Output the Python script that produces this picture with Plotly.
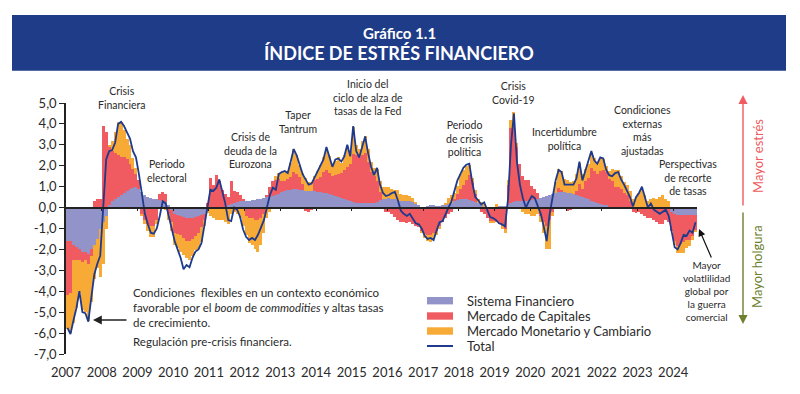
import plotly.graph_objects as go

# ---------------- data (monthly, Jan-2007 onward) ----------------
YEAR_LABELS = ["2007", "2008", "2009", "2010", "2011", "2012", "2013", "2014", "2015",
               "2016", "2017", "2018", "2019", "2020", "2021", "2022", "2023", "2024"]
Y_TICK_VALUES = [5, 4, 3, 2, 1, 0, -1, -2, -3, -4, -5, -6, -7]
Y_TICK_LABELS = ["5,0", "4,0", "3,0", "2,0", "1,0", "0,0", "-1,0", "-2,0", "-3,0",
                 "-4,0", "-5,0", "-6,0", "-7,0"]
SERIES_NAMES = ["Sistema Financiero", "Mercado de Capitales",
                "Mercado Monetario y Cambiario", "Total"]

sistema_financiero = (
    [-1.6, -1.6, -1.8, -1.9, -2.0, -2.1, -2.1, -2.2, -2.0, -1.8, -1.5, -1.0]
    + [-0.7, -0.4, 0.1, 0.3, 0.4, 0.5, 0.6, 0.7, 0.8, 0.9, 0.95, 1.0]
    + [0.9, 0.75, 0.6, 0.5, 0.45, 0.4, 0.4, 0.35, 0.3, 0.25, 0.1, -0.1]
    + [-0.3, -0.35, -0.4, -0.45, -0.5, -0.5, -0.5, -0.45, -0.4, -0.35, -0.3, -0.15]
    + [0.0, 0.0, 0.05, 0.05, 0.05, 0.05, 0.1, 0.15, 0.2, 0.25, 0.3, 0.3]
    + [0.3, 0.3, 0.35, 0.35, 0.4, 0.4, 0.45, 0.5, 0.5, 0.55, 0.6, 0.65]
    + [0.75, 0.8, 0.85, 0.85, 0.9, 0.9, 0.85, 0.85, 0.8, 0.8, 0.8, 0.8]
    + [0.75, 0.75, 0.7, 0.7, 0.65, 0.6, 0.55, 0.5, 0.45, 0.4, 0.35, 0.3]
    + [0.25, 0.2, 0.2, 0.2, 0.2, 0.2, 0.2, 0.2, 0.25, 0.35, 0.4, 0.4]
    + [0.45, 0.4, 0.4, 0.35, 0.3, 0.3, 0.3, 0.3, 0.25, 0.2, 0.1, 0.0]
    + [0.0, 0.05, 0.1, 0.1, 0.05, 0.05, 0.1, 0.1, 0.15, 0.2, 0.3, 0.35]
    + [0.4, 0.4, 0.4, 0.35, 0.3, 0.25, 0.2, 0.1, 0.05, 0.0, -0.05, -0.05]
    + [0.05, 0.05, 0.05, 0.05, 0.1, 0.2, 0.25, 0.3, 0.3, 0.3, 0.3, 0.3]
    + [0.35, 0.4, 0.4, 0.45, 0.5, 0.55, 0.6, 0.65, 0.7, 0.75, 0.75, 0.75]
    + [0.7, 0.7, 0.65, 0.6, 0.55, 0.5, 0.45, 0.4, 0.3, 0.25, 0.2, 0.15]
    + [0.1, 0.1, 0.05, 0.05, -0.05, -0.05, -0.05, -0.05, -0.05, -0.05, 0.0, 0.0]
    + [0.0, 0.0, 0.0, 0.0, 0.0, 0.0, 0.0, 0.0, 0.0, 0.0, 0.0, -0.2]
    + [-0.3, -0.35, -0.35, -0.35, -0.35, -0.35, -0.35, -0.35]
)

mercado_capitales = (
    [-2.6, -2.5, -0.7, -0.6, -0.5, -0.5, -0.4, -0.5, -0.3, 0.3, 0.4, 0.4]
    + [3.9, 3.6, 2.8, 2.4, 2.2, 2.0, 1.8, 1.7, 1.5, 1.2, 0.9, 0.6]
    + [0.4, -0.3, -0.6, -0.8, -0.9, -0.9, -0.6, 0.3, 0.45, 0.4, -0.3, -0.6]
    + [-0.9, -0.9, -0.9, -1.0, -1.1, -1.1, -1.0, -0.9, -0.8, -0.6, -0.3, 0.2]
    + [1.4, 1.1, 1.5, 1.2, 0.8, 0.6, 0.4, 1.1, 0.6, 0.5, 0.3, 0.1]
    + [-0.4, -0.5, -0.5, -0.6, -0.6, -0.5, -0.3, 0.1, 0.5, 0.7, 0.7, 0.7]
    + [0.5, 0.45, 0.5, 0.6, 0.8, 0.7, 0.6, 0.3, -0.15, -0.2, -0.1, 0.5]
    + [0.6, 0.7, 1.0, 1.1, 1.0, 0.9, 1.0, 1.1, 1.2, 1.4, 1.6, 1.8]
    + [2.3, 2.3, 2.2, 2.3, 2.4, 2.0, 1.5, 1.3, 1.0, 0.4, 0.0, -0.2]
    + [-0.2, -0.3, -0.45, -0.6, -0.7, -0.7, -0.75, -0.7, -0.8, -0.9, -0.95, -1.1]
    + [-1.25, -1.3, -1.3, -1.2, -1.1, -0.9, -0.7, -0.5, -0.3, -0.2, 0.1, 0.3]
    + [0.5, 0.7, 0.9, 1.2, 0.9, 0.4, 0.0, -0.2, -0.3, -0.5, -0.6, -0.6]
    + [-0.7, -0.8, -0.9, -1.0, 1.0, 3.6, 3.8, 2.6, 1.8, 1.2, 1.0, 1.0]
    + [0.7, 0.5, 0.3, -0.4, -0.7, -0.9, -0.6, -0.2, 0.0, 0.2, 0.1, 0.0]
    + [-0.15, -0.1, 0.0, 0.2, 0.6, 0.4, 0.8, 1.0, 1.6, 1.5, 1.4, 1.6]
    + [1.7, 1.6, 1.3, 1.2, 1.0, 1.0, 0.9, 0.7, 0.6, 0.3, -0.2, -0.25]
    + [-0.2, -0.3, -0.4, -0.5, -0.5, -0.6, -0.7, -0.8, -0.8, -0.6, -0.7, -0.9]
    + [-1.3, -1.5, -1.4, -1.3, -1.2, -1.2, -1.0, -0.7]
)

mercado_monetario = (
    [-1.6, -1.9, -3.0, -2.3, -1.6, -2.3, -2.5, -2.7, -2.2, -1.6, -1.4, -2.3]
    + [-2.0, -0.6, 0.1, 0.5, 1.0, 1.6, 1.7, 1.3, 1.0, 0.9, 0.5, 0.3]
    + [0.0, -0.1, -0.2, -0.3, -0.5, -0.5, -0.2, 0.0, 0.0, -0.1, -0.3, -0.4]
    + [-0.6, -0.7, -0.8, -0.8, -0.8, -0.9, -0.8, -0.7, -0.8, -0.7, -0.3, -0.1]
    + [-0.4, -0.5, -0.6, -0.6, -0.6, -0.7, -0.8, -0.3, -0.2, -0.3, -0.5, -0.9]
    + [-0.9, -1.2, -1.3, -1.4, -1.5, -1.3, -0.9, -0.5, -0.2, 0.0, 0.2, 0.3]
    + [0.4, 0.5, 0.4, 0.7, 1.1, 0.9, 0.6, 0.5, 0.6, 0.4, 0.4, 0.2]
    + [0.4, 0.6, 0.7, 1.0, 0.8, 0.5, 0.7, 0.8, 0.5, 0.7, 1.0, 0.6]
    + [1.3, 0.5, 0.4, 0.7, 0.8, 0.6, 0.5, 0.4, 0.6, 0.5, 0.6, 0.6]
    + [0.55, 0.5, 0.45, 0.5, 0.35, 0.3, 0.3, 0.25, 0.2, 0.05, 0.0, -0.1]
    + [-0.2, -0.3, -0.35, -0.3, -0.2, -0.1, 0.0, 0.1, 0.3, 0.4, 0.3, 0.4]
    + [0.7, 0.7, 0.7, 0.5, 0.2, 0.2, 0.2, 0.15, 0.1, 0.0, -0.1, -0.1]
    + [0.1, 0.0, -0.1, -0.2, 0.2, 0.4, 0.5, 0.2, 0.0, -0.2, -0.3, -0.3]
    + [-0.4, -0.4, -0.3, -0.3, -0.5, -1.1, -1.4, -0.2, 0.5, 0.9, 0.9, 0.6]
    + [0.6, 0.5, 0.6, 0.8, 1.0, 0.7, 0.6, 0.7, 0.7, 0.6, 0.6, 0.6]
    + [0.5, 0.3, 0.4, 0.6, 0.8, 0.8, 0.6, 0.5, 0.5, 0.5, 0.4, 0.5]
    + [0.7, 0.9, 0.6, 0.3, 0.4, 0.45, 0.4, 0.5, 0.6, 0.4, 0.3, 0.0]
    + [-0.2, -0.3, -0.4, -0.5, -0.4, -0.3, -0.2, -0.1]
)

total = (
    [-5.75, -6.05, -5.4, -4.8, -4.0, -5.0, -5.05, -5.45, -4.3, -3.2, -2.7, -2.3]
    + [0.0, 2.3, 2.7, 2.75, 3.1, 4.0, 4.1, 3.9, 3.6, 3.3, 2.7, 2.4]
    + [1.6, 0.6, -0.3, -0.8, -1.2, -1.25, -1.0, -0.4, 0.3, 0.2, -0.4, -1.0]
    + [-1.6, -2.0, -2.4, -2.95, -2.75, -2.85, -2.4, -2.1, -2.0, -1.7, -0.8, -0.1]
    + [0.85, 0.8, 0.95, 1.35, 0.8, 0.2, -0.6, -0.65, 0.0, -0.1, -0.45, -1.05]
    + [-1.4, -1.55, -1.45, -1.55, -1.3, -0.9, -0.6, 0.0, 0.6, 0.95, 0.85, 1.6]
    + [1.7, 1.75, 1.65, 2.2, 2.8, 2.5, 2.0, 1.6, 1.35, 1.1, 1.15, 1.45]
    + [1.7, 2.0, 2.3, 2.9, 2.4, 1.95, 2.3, 2.35, 2.2, 2.45, 3.0, 2.45]
    + [3.9, 2.7, 2.4, 2.9, 3.4, 2.6, 1.95, 1.55, 1.9, 1.1, 0.7, 0.55]
    + [0.6, 0.7, 0.75, 0.35, -0.15, -0.3, -0.4, -0.3, -0.5, -0.75, -0.8, -1.0]
    + [-1.35, -1.5, -1.45, -1.55, -1.1, -0.7, -0.65, -0.3, 0.0, 0.3, 0.85, 1.3]
    + [1.6, 1.9, 2.05, 2.1, 1.2, 0.5, 0.35, 0.15, 0.25, -0.1, -0.45, -0.5]
    + [-0.6, -0.75, -0.8, -0.9, 0.4, 3.0, 4.5, 2.2, 1.1, 0.45, 0.0, 0.3]
    + [0.55, 0.45, 0.1, -0.3, -0.9, -1.6, -0.3, 0.6, 1.3, 1.8, 1.7, 1.1]
    + [1.1, 1.1, 1.1, 1.4, 2.2, 1.3, 1.75, 2.15, 2.7, 2.25, 2.1, 2.4]
    + [2.35, 1.8, 1.55, 1.5, 1.65, 1.7, 1.35, 1.1, 0.8, 0.5, 0.05, 0.5]
    + [0.7, 1.0, 0.5, 0.0, 0.2, -0.1, -0.2, -0.3, -0.2, -0.1, -0.4, -1.2]
    + [-1.9, -2.0, -1.7, -1.3, -1.35, -1.1, -1.2, -0.7]
)

N = len(total)
months = list(range(N))

# ---------------- styling ----------------
COLORS = ["#9294C9", "#EF5B60", "#F8AA36", "#1E3A8C"]
BANNER = "#1F3C88"
TXT = "#2a2a2a"
FONT = "Lato, 'Open Sans', sans-serif"

PAGE_OFF = 8            # default body margin of the page that shows the figure
W, H = 800 - PAGE_OFF, 394 - PAGE_OFF
# plot area in page pixels: x 66..697, y 103..354
L, T = 66 - PAGE_OFF, 103 - PAGE_OFF
R, B = W - (697 - PAGE_OFF), H - (354 - PAGE_OFF)
PW, PH = 697 - 66, 354 - 103
YMIN, YMAX = -7, 5


def px(x):          # page pixel x -> paper
    return (x - 66) / PW


def py(y):          # page pixel y -> paper
    return (354 - y) / PH


fig = go.Figure()
for name, vals, col in zip(SERIES_NAMES[:3],
                           [sistema_financiero, mercado_capitales, mercado_monetario],
                           COLORS[:3]):
    fig.add_trace(go.Bar(x=months, y=vals, name=name, marker_color=col,
                         marker_line_width=0, showlegend=False))

fig.add_trace(go.Scatter(x=months, y=total, name=SERIES_NAMES[3], mode="lines",
                         line=dict(color=COLORS[3], width=1.8),
                         xaxis="x2", yaxis="y", showlegend=False))

annotations = []


def label(text, cx, cy, size=10.5, anchor="center", color=TXT, angle=0, align="center"):
    annotations.append(dict(x=px(cx), y=py(cy), xref="paper", yref="paper",
                            text=text, showarrow=False, xanchor=anchor, yanchor="middle",
                            textangle=angle, align=align,
                            font=dict(family=FONT, size=size, color=color)))


def arrow(hx, hy, tx, ty, color, width=1.5, size=1.0, head=2):
    annotations.append(dict(x=px(hx), y=py(hy), xref="paper", yref="paper", text="",
                            showarrow=True, ax=tx - hx, ay=ty - hy, axref="pixel",
                            ayref="pixel", arrowhead=head, arrowsize=size,
                            arrowwidth=width, arrowcolor=color, standoff=0))


# title banner text
label("<b>Gráfico 1.1</b>", 399, 33, size=15, color="white")
label("<b>ÍNDICE DE ESTRÉS FINANCIERO</b>", 399, 53.5, size=18, color="white")

# event labels (centre of each block in page pixels)
label("Crisis<br>Financiera", 121, 97.8)
label("Periodo<br>electoral", 167, 170.5)
label("Crisis de<br>deuda de la<br>Eurozona", 250, 150)
label("Taper<br>Tantrum", 298, 122.4)
label("Inicio del<br>ciclo de alza de<br>tasas de la Fed", 368, 97.5)
label("Periodo<br>de crisis<br>política", 465, 138.7)
label("Crisis<br>Covid-19", 513, 93.4)
label("Incertidumbre<br>política", 564, 139.2)
label("Condiciones<br>externas<br>más<br>ajustadas", 642, 130)
label("Perspectivas<br>de recorte<br>de tasas", 688, 177.2)
label("Mayor<br>volatlilidad<br>global por<br>la guerra<br>comercial", 706, 290.5,
      size=10)
label("Condiciones  flexibles en un contexto económico<br>"
      "favorable por el <i>boom</i> de <i>commodities</i> y altas tasas<br>"
      "de crecimiento.", 131, 307.2, size=11.5, anchor="left", align="left")
label("Regulación pre-crisis financiera.", 131, 341.7, size=11.5, anchor="left",
      align="left")

arrow(93, 320, 128, 320, "#222222", width=1.6, size=1.1)
arrow(699, 229, 712, 259, "#111111", width=1.2, size=1.2)

# right-hand direction arrows
arrow(743, 95, 743, 207, "#EF5B60", width=1.4, size=1.3)
arrow(743, 324, 743, 211, "#6E7F2E", width=1.4, size=1.3)
label("Mayor estrés", 758, 156, size=13, color="#EF5B60", angle=-90)
label("Mayor holgura", 757, 267, size=13, color="#6E7F2E", angle=-90)

# banner and manual legend
shapes = [dict(type="rect", xref="paper", yref="paper", x0=px(12), x1=px(786),
               y0=py(70.7), y1=py(15), fillcolor=BANNER, line=dict(width=0),
               layer="below")]
leg_rows = [300.7, 316, 331, 346]
for k, (name, col) in enumerate(zip(SERIES_NAMES, COLORS)):
    yc = leg_rows[k]
    if k < 3:
        shapes.append(dict(type="rect", xref="paper", yref="paper", x0=px(427),
                           x1=px(453), y0=py(yc + 3.7), y1=py(yc - 3.7),
                           fillcolor=col, line=dict(width=0)))
    else:
        shapes.append(dict(type="line", xref="paper", yref="paper", x0=px(427),
                           x1=px(453), y0=py(yc), y1=py(yc),
                           line=dict(color=col, width=2)))
    label(name, 465, yc, size=13, anchor="left", align="left")

fig.update_layout(
    width=W, height=H, margin=dict(l=L, r=R, t=T, b=B, autoexpand=False),
    paper_bgcolor="white", plot_bgcolor="white",
    barmode="relative", bargap=0,
    font=dict(family=FONT, size=13, color=TXT),
    showlegend=False,
    xaxis=dict(range=[-0.5, N - 0.5], tickmode="array",
               tickvals=[-0.5 + 12 * k for k in range(len(YEAR_LABELS))],
               ticktext=YEAR_LABELS, ticks="outside", ticklen=6,
               tickcolor="rgba(0,0,0,0)", showline=False, showgrid=False,
               zeroline=False, tickfont=dict(size=13, color=TXT)),
    xaxis2=dict(range=[-0.5, N - 0.5], overlaying="x", anchor="free",
                position=(0 - YMIN) / (YMAX - YMIN), side="bottom",
                tickmode="array",
                tickvals=[-0.5 + 12 * k for k in range(1, len(YEAR_LABELS))],
                showticklabels=False, ticks="outside", ticklen=3, tickwidth=1.2,
                tickcolor="#222222", showline=True, linecolor="#222222",
                linewidth=1.5, showgrid=False, zeroline=False),
    yaxis=dict(range=[YMIN, YMAX], tickmode="array", tickvals=Y_TICK_VALUES,
               ticktext=Y_TICK_LABELS, ticks="outside", ticklen=5,
               tickcolor="#222222", showline=True, linecolor="#222222",
               linewidth=1.5, showgrid=False, zeroline=False,
               tickfont=dict(size=13, color=TXT)),
    annotations=annotations, shapes=shapes,
)

fig.write_html("out.html")
